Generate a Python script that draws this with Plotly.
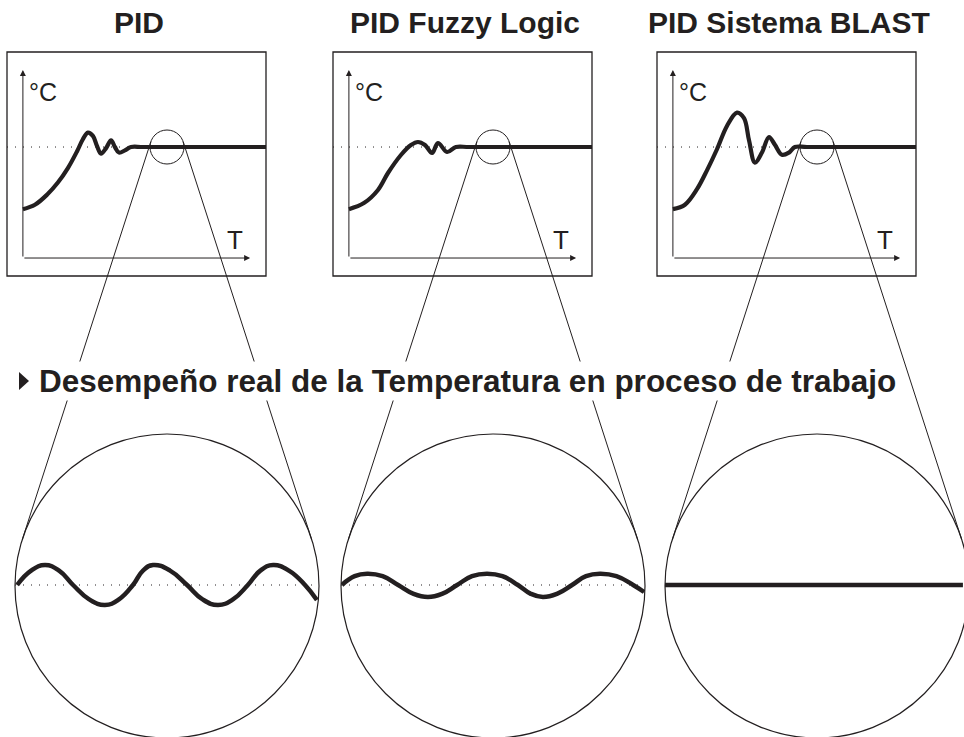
import math
import plotly.graph_objects as go

# ---------------- data ----------------
panel_titles = ["PID", "PID Fuzzy Logic", "PID Sistema BLAST"]
heading_text = "Desempeño real de la Temperatura en proceso de trabajo"
y_label = "°C"
x_label = "T"

setpoint = 100

# step responses (time units, temperature units; setpoint = 100)
pid_t = [0, 0.53, 1.06, 1.54, 1.98, 2.38, 2.64, 2.86, 3.08, 3.26, 3.44, 3.66, 3.88, 4.05, 4.23, 4.49, 4.76, 5.3, 10.7]
pid_T = [44, 48, 57, 68, 81, 96, 107, 113, 110, 101, 94, 99, 106, 100, 95, 97, 100, 100, 100]

fuzzy_t = [0, 0.66, 1.28, 1.72, 2.29, 2.73, 3.04, 3.35, 3.66, 3.92, 4.32, 4.71, 5.3, 10.7]
fuzzy_T = [44, 49.5, 61.3, 76.6, 92.8, 101.8, 104.5, 101.8, 94.6, 103.6, 95.5, 100, 100, 100]

blast_t = [0, 0.53, 1.06, 1.50, 1.94, 2.38, 2.82, 3.13, 3.35, 3.61, 3.92, 4.23, 4.49, 4.80, 5.11, 5.37, 5.9, 10.7]
blast_T = [44, 48, 62, 79, 98, 119, 131, 126, 106, 86, 95, 109, 102, 93, 95, 100, 100, 100]

# zoomed steady-state behaviour (deviation from setpoint)
zoom_pid_t = [0.07, 0.53, 0.99, 1.45, 1.91, 2.44, 2.96, 3.42, 3.88, 4.21, 4.54, 5.10, 5.66,
              6.17, 6.68, 7.17, 7.66, 8.07, 8.49, 9.01, 9.54, 9.93]
zoom_pid_d = [0, 0.72, 1.0, 0.72, 0, -0.72, -1.0, -0.72, 0, 0.72, 1.0, 0.72, 0,
              -0.72, -1.0, -0.72, 0, 0.72, 1.0, 0.72, 0, -0.75]

zoom_fuzzy_t = [0.03, 0.45, 0.86, 1.37, 1.88, 2.37, 2.86, 3.34, 3.82, 4.31, 4.80, 5.31, 5.82,
                6.23, 6.64, 7.12, 7.60, 8.06, 8.52, 9.06, 9.61, 9.97]
zoom_fuzzy_d = [0, 0.44, 0.56, 0.44, 0, -0.43, -0.6, -0.43, 0, 0.44, 0.56, 0.44, 0,
                -0.43, -0.6, -0.43, 0, 0.44, 0.56, 0.44, 0, -0.35]

zoom_blast_t = [0, 9.8]
zoom_blast_d = [0, 0]

curves = [(pid_t, pid_T), (fuzzy_t, fuzzy_T), (blast_t, blast_T)]
zooms = [(zoom_pid_t, zoom_pid_d), (zoom_fuzzy_t, zoom_fuzzy_d), (zoom_blast_t, zoom_blast_d)]

# ---------------- layout geometry (pixels) ----------------
W, H = 964, 737
INK = "#231f20"
FONT = "Liberation Sans, Arial, sans-serif"

box_left = [7, 333, 657]
box_w, box_top, box_bot = 259, 52, 276
small_cx = [167, 493, 817]
small_cy, small_r = 147, 17
big_cy, big_r = 586, 152
zoom_top = 434

t_range = [-0.7, 10.7]
T_range = [-16.2, 185.6]
axis_t_end = 10.0
axis_T_end = 169.4

fig = go.Figure()

# main pixel canvas
fig.update_layout(
    xaxis=dict(domain=[0, 1], range=[0, W], visible=False, fixedrange=True),
    yaxis=dict(domain=[0, 1], range=[H, 0], visible=False, fixedrange=True),
)
fig.add_trace(go.Scatter(x=[0], y=[0], mode="markers", marker=dict(opacity=0), hoverinfo="skip",
                         showlegend=False, xaxis="x", yaxis="y"))

shapes = []
annotations = []

for i in range(3):
    ax_n = i + 2
    xa, ya = f"x{ax_n}", f"y{ax_n}"
    bl = box_left[i]
    fig.update_layout(**{
        f"xaxis{ax_n}": dict(domain=[bl / W, (bl + box_w) / W], range=t_range, visible=False,
                              anchor=ya, fixedrange=True),
        f"yaxis{ax_n}": dict(domain=[1 - box_bot / H, 1 - box_top / H], range=T_range, visible=False,
                              anchor=xa, fixedrange=True),
    })
    # setpoint dotted line
    fig.add_trace(go.Scatter(x=t_range, y=[setpoint, setpoint], mode="lines",
                             line=dict(color=INK, width=1, dash="1px,7px"),
                             hoverinfo="skip", showlegend=False, xaxis=xa, yaxis=ya))
    # response curve
    t, T = curves[i]
    fig.add_trace(go.Scatter(x=t, y=T, mode="lines",
                             line=dict(color=INK, width=4.2, shape="spline", smoothing=1.0),
                             hoverinfo="skip", showlegend=False, xaxis=xa, yaxis=ya))
    # axes arrows
    annotations.append(dict(x=0, y=axis_T_end, ax=0, ay=0, xref=xa, yref=ya, axref=xa, ayref=ya,
                            showarrow=True, arrowhead=2, arrowsize=1.2, arrowwidth=1, arrowcolor=INK, text=""))
    annotations.append(dict(x=axis_t_end, y=0, ax=0, ay=0, xref=xa, yref=ya, axref=xa, ayref=ya,
                            showarrow=True, arrowhead=2, arrowsize=1.2, arrowwidth=1, arrowcolor=INK, text=""))
    annotations.append(dict(x=0.2, y=150, xref=xa, yref=ya, text=y_label, showarrow=False,
                            xanchor="left", yanchor="middle", font=dict(family=FONT, size=25, color=INK)))
    annotations.append(dict(x=9.34, y=16, xref=xa, yref=ya, text=x_label, showarrow=False,
                            xanchor="center", yanchor="middle", font=dict(family=FONT, size=26, color=INK)))
    # title
    annotations.append(dict(x=bl + box_w / 2 + 2, y=22, xref="x", yref="y", text=panel_titles[i],
                            showarrow=False, xanchor="center", yanchor="middle",
                            font=dict(family=FONT, size=30, color=INK, weight="bold")))
    # frame box
    shapes.append(dict(type="rect", xref="x", yref="y", x0=bl, x1=bl + box_w, y0=box_top, y1=box_bot,
                       line=dict(color=INK, width=1.3)))
    # small circle
    cx = small_cx[i]
    shapes.append(dict(type="circle", xref="x", yref="y", x0=cx - small_r, x1=cx + small_r,
                       y0=small_cy - small_r, y1=small_cy + small_r, line=dict(color=INK, width=1)))
    # big circle
    shapes.append(dict(type="circle", xref="x", yref="y", x0=cx - big_r, x1=cx + big_r,
                       y0=big_cy - big_r, y1=big_cy + big_r, line=dict(color=INK, width=1.2)))
    # external tangent lines
    d = big_cy - small_cy
    ny = (big_r - small_r) / d
    nx = math.sqrt(1 - ny * ny)
    for s in (-1, 1):
        x0 = cx + s * small_r * nx
        y0 = small_cy - small_r * ny
        x1 = cx + s * big_r * nx
        y1 = big_cy - big_r * ny
        shapes.append(dict(type="line", xref="x", yref="y", x0=x0, y0=y0, x1=x1, y1=y1,
                           line=dict(color=INK, width=1)))

    # zoom subplot
    zn = i + 5
    zx, zy = f"x{zn}", f"y{zn}"
    left = cx - big_r
    right = min(cx + big_r, W)
    zt_max = (right - left) / 30.4
    fig.update_layout(**{
        f"xaxis{zn}": dict(domain=[left / W, right / W], range=[0, zt_max], visible=False,
                           anchor=zy, fixedrange=True),
        f"yaxis{zn}": dict(domain=[0, 1 - zoom_top / H], range=[-7.6, 7.55], visible=False,
                           anchor=zx, fixedrange=True),
    })
    if i < 2:
        fig.add_trace(go.Scatter(x=[0, 10], y=[0, 0], mode="lines",
                                 line=dict(color=INK, width=1, dash="1px,7px"),
                                 hoverinfo="skip", showlegend=False, xaxis=zx, yaxis=zy))
    zt, zd = zooms[i]
    fig.add_trace(go.Scatter(x=zt, y=zd, mode="lines",
                             line=dict(color=INK, width=4.5, shape="spline", smoothing=1.3),
                             hoverinfo="skip", showlegend=False, xaxis=zx, yaxis=zy))

# heading marker triangle and text
shapes.append(dict(type="path", xref="x", yref="y", path="M 19,372 L 29,381 L 19,390 Z",
                   fillcolor=INK, line=dict(color=INK, width=0)))
annotations.append(dict(x=37, y=381, xref="x", yref="y", text=heading_text, showarrow=False,
                        xanchor="left", yanchor="middle", bgcolor="white", borderpad=1,
                        font=dict(family=FONT, size=31.5, color=INK, weight="bold")))

fig.update_layout(
    width=W, height=H, autosize=False,
    margin=dict(l=0, r=0, t=0, b=0, pad=0),
    paper_bgcolor="white", plot_bgcolor="rgba(0,0,0,0)",
    shapes=shapes, annotations=annotations, showlegend=False,
)

fig.write_html("out.html", config={"displayModeBar": False},
               post_script="document.body.style.margin='0px';document.body.style.padding='0px';")
